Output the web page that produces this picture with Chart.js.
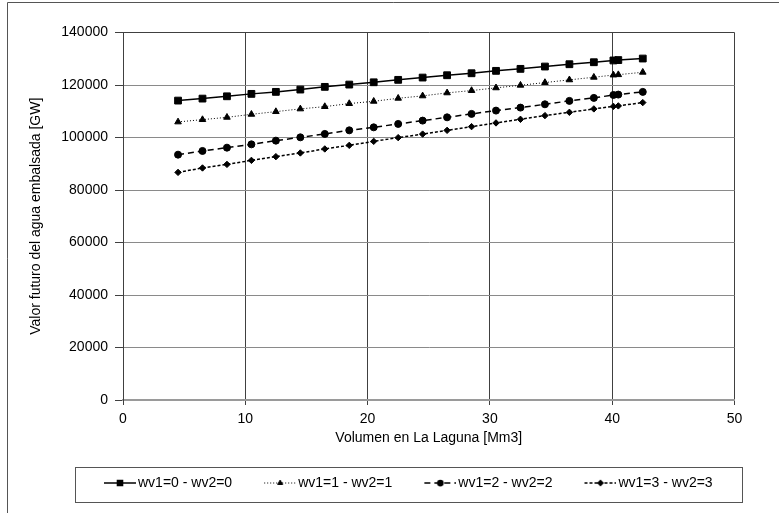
<!DOCTYPE html>
<html lang="es">
<head>
<meta charset="UTF-8">
<title>Valor futuro del agua embalsada</title>
<script src="https://cdn.jsdelivr.net/npm/chart.js"></script>
<style>
  body { margin: 0; background: #fff; }
  canvas { display: block; }
</style>
</head>
<body>
<canvas id="chart" width="779" height="513"></canvas>
<script>
// volumen en La Laguna [Mm3]
const volumen = [4.5, 6.5, 8.5, 10.5, 12.5, 14.5, 16.5, 18.5, 20.5, 22.5, 24.5,
                 26.5, 28.5, 30.5, 32.5, 34.5, 36.5, 38.5, 40.1, 40.5, 42.5];

// valor futuro del agua embalsada [GW]
const wv0 = [114060, 114820, 115700, 116620, 117380, 118260, 119290, 120160, 121040, 121960, 122830,
             123710, 124470, 125390, 126150, 127030, 127910, 128670, 129350, 129500, 130080];
const wv1 = [105930, 106810, 107690, 108830, 109860, 110890, 111770, 112920, 113790, 114940, 115850,
             117000, 117880, 118910, 119900, 120930, 121960, 122950, 123800, 123930, 124850];
const wv2 = [93460, 94870, 96130, 97390, 98800, 100060, 101360, 102730, 103870, 105170, 106430,
             107690, 108990, 110250, 111390, 112650, 113950, 115090, 116200, 116350, 117380];
const wv3 = [86710, 88390, 89760, 91290, 92700, 94110, 95640, 97010, 98530, 99950, 101300,
             102730, 104140, 105550, 106930, 108340, 109600, 110890, 111850, 112040, 113300];

const seriesLabels = ['wv1=0 - wv2=0', 'wv1=1 - wv2=1', 'wv1=2 - wv2=2', 'wv1=3 - wv2=3'];
const xTicks = [0, 10, 20, 30, 40, 50];
const yTicks = [0, 20000, 40000, 60000, 80000, 100000, 120000, 140000];

const FONT = 'Liberation Sans, Arial, sans-serif';
const INK = '#000';

function toPoints(ys) {
    return ys.map((y, i) => ({ x: volumen[i], y: y }));
}

const styles = [
    { pointStyle: 'rect',     radius: 4.8, width: 1.5, dash: [] },
    { pointStyle: 'triangle', radius: 3.8, width: 1,   dash: [1, 2] },
    { pointStyle: 'circle',   radius: 3.5, width: 1.5, dash: [6, 4] },
    { pointStyle: 'rectRot',  radius: 3.2, width: 1.5, dash: [3, 2] }
];

// little "line + marker" pictures for the legend
function legendIcon(st) {
    const c = document.createElement('canvas');
    c.width = 59;
    c.height = 14;
    const g = c.getContext('2d');
    g.strokeStyle = INK;
    g.fillStyle = INK;
    g.lineWidth = st.width;
    g.setLineDash(st.dash);
    g.beginPath();
    g.moveTo(27, 7);
    g.lineTo(59, 7);
    g.stroke();
    g.setLineDash([]);
    Chart.helpers.drawPoint(g, { pointStyle: st.pointStyle, radius: st.radius * 0.75, rotation: 0, borderWidth: 1 }, 43, 7);
    g.fill();
    return c;
}

const datasets = [wv0, wv1, wv2, wv3].map((ys, i) => ({
    label: seriesLabels[i],
    data: toPoints(ys),
    borderColor: INK,
    backgroundColor: INK,
    borderWidth: styles[i].width,
    borderDash: styles[i].dash,
    pointStyle: styles[i].pointStyle,
    pointRadius: styles[i].radius,
    pointBorderWidth: 1,
    pointBackgroundColor: INK,
    pointBorderColor: INK,
    tension: 0
}));

const decor = {
    id: 'decor',
    beforeDraw(chart) {
        const ctx = chart.ctx;
        ctx.save();
        ctx.fillStyle = '#fff';
        ctx.fillRect(0, 0, chart.width, chart.height);
        ctx.restore();
    },
    afterLayout(chart) {
        chart.legend.left = 72;
    },
    afterDraw(chart) {
        const ctx = chart.ctx;
        ctx.save();
        ctx.strokeStyle = '#555';
        ctx.lineWidth = 1;
        // outer frame
        ctx.beginPath();
        ctx.moveTo(7.5, chart.height + 5);
        ctx.lineTo(7.5, 2.5);
        ctx.lineTo(chart.width + 5, 2.5);
        ctx.stroke();
        // legend frame
        ctx.strokeRect(75.5, chart.legend.top + 1.5, 667, 35);
        ctx.restore();
    }
};

const plainNumber = v => String(v);

new Chart(document.getElementById('chart'), {
    type: 'line',
    data: { datasets: datasets },
    options: {
        responsive: false,
        animation: false,
        devicePixelRatio: 1,
        layout: { padding: { left: 8, right: 44.5, top: 32.5, bottom: 13 } },
        plugins: {
            tooltip: { enabled: false },
            legend: {
                position: 'bottom',
                align: 'start',
                labels: {
                    usePointStyle: true,
                    pointStyleWidth: 49,
                    padding: 10,
                    color: INK,
                    font: { family: FONT, size: 14 },
                    generateLabels(chart) {
                        const items = Chart.defaults.plugins.legend.labels.generateLabels(chart);
                        items.forEach((it, i) => { it.pointStyle = legendIcon(styles[i]); });
                        return items;
                    }
                }
            }
        },
        scales: {
            x: {
                type: 'linear',
                min: 0,
                max: 50,
                afterFit(s) { s.height = 66; },
                afterBuildTicks(s) { s.ticks = xTicks.map(v => ({ value: v })); },
                ticks: { color: INK, font: { family: FONT, size: 14 }, padding: 6, callback: plainNumber },
                grid: { color: '#404040', lineWidth: 1, tickLength: 5, tickColor: '#404040' },
                border: { color: '#9a9a9a', width: 2 },
                title: {
                    display: true,
                    text: 'Volumen en La Laguna [Mm3]',
                    color: INK,
                    font: { family: FONT, size: 14 },
                    padding: { top: 4, bottom: 19.6 }
                }
            },
            y: {
                min: 0,
                max: 140000,
                afterFit(s) { s.width = 115; },
                afterBuildTicks(s) { s.ticks = yTicks.map(v => ({ value: v })); },
                ticks: { color: INK, font: { family: FONT, size: 14 }, padding: 7, callback: plainNumber },
                grid: {
                    color: c => (c.tick && c.tick.value === 140000) ? '#404040' : '#8a8a8a',
                    lineWidth: 1,
                    tickLength: 8,
                    tickColor: '#404040'
                },
                border: { color: '#404040', width: 1 },
                title: {
                    display: true,
                    text: 'Valor futuro del agua embalsada [GW]',
                    color: INK,
                    font: { family: FONT, size: 14 },
                    padding: { top: 20, bottom: 4 }
                }
            }
        }
    },
    plugins: [decor]
});
</script>
</body>
</html>
